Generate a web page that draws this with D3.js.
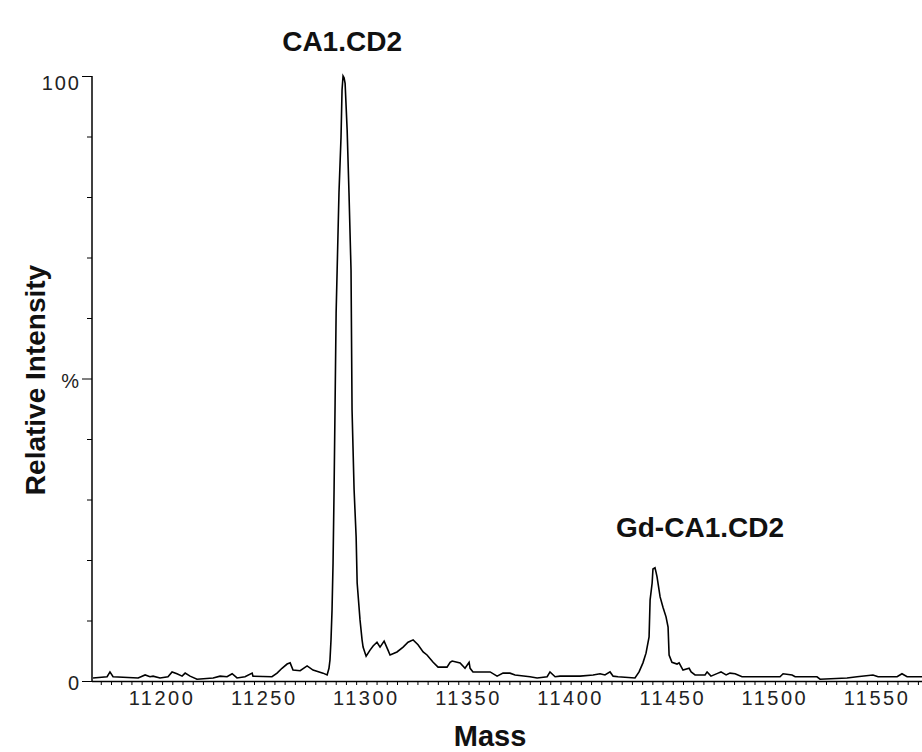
<!DOCTYPE html>
<html>
<head>
<meta charset="utf-8">
<script src="https://cdn.jsdelivr.net/npm/d3@7"></script>
<style>
  html, body { margin: 0; padding: 0; background: #fff; }
  svg { display: block; }
</style>
</head>
<body>
<div id="chart"></div>
<script>
// ─── Data (mass, % relative intensity) ───
const massValues = [
  11166.2, 11173.1, 11174.5, 11176.0, 11188.3, 11191.7, 11194.1, 11195.6, 11199.0, 11202.9,
  11204.9, 11207.3, 11209.8, 11211.3, 11213.7, 11217.1, 11225.0, 11228.4, 11231.8, 11234.3,
  11236.7, 11240.6, 11244.1, 11244.5, 11253.8, 11256.3, 11258.7, 11261.2, 11262.7, 11264.1,
  11267.6, 11271.0, 11273.9, 11278.8, 11280.8, 11281.7, 11282.2, 11282.7, 11283.2, 11283.7,
  11284.2, 11284.7, 11285.2, 11285.7, 11286.6, 11287.6, 11288.1, 11288.6, 11289.1, 11289.6,
  11290.6, 11291.5, 11292.5, 11293.0, 11294.0, 11295.0, 11295.5, 11296.9, 11297.9, 11298.4,
  11299.4, 11299.9, 11301.8, 11303.3, 11305.2, 11306.7, 11308.7, 11310.6, 11311.6, 11315.0,
  11318.0, 11320.4, 11322.9, 11325.3, 11327.8, 11329.7, 11332.7, 11335.1, 11339.5, 11341.0,
  11342.0, 11345.9, 11348.3, 11350.3, 11350.8, 11352.2, 11360.6, 11364.0, 11366.9, 11370.3,
  11372.8, 11380.1, 11383.6, 11388.5, 11389.9, 11392.4, 11394.8, 11404.6, 11411.0, 11414.4,
  11416.8, 11419.3, 11420.8, 11423.2, 11431.5, 11433.5, 11435.4, 11436.9, 11438.4, 11438.9,
  11439.9, 11440.3, 11441.3, 11441.8, 11442.3, 11443.8, 11445.2, 11446.7, 11447.7, 11448.2,
  11449.6, 11452.1, 11453.1, 11455.0, 11458.0, 11459.0, 11460.9, 11465.8, 11466.8, 11468.7,
  11472.2, 11473.6, 11476.1, 11478.0, 11480.5, 11483.9, 11486.4, 11502.5, 11504.0, 11508.4,
  11509.9, 11520.6, 11522.1, 11535.3, 11540.2, 11548.0, 11550.5, 11559.8, 11562.2, 11564.7,
  11572.0
];
const intensityValues = [
  0.5, 0.7, 1.5, 0.7, 0.5, 1.0, 0.7, 0.8, 0.5, 0.7,
  1.5, 1.2, 0.8, 1.3, 0.8, 0.3, 0.5, 0.8, 0.7, 1.2,
  0.5, 0.7, 1.3, 0.8, 0.7, 1.3, 2.1, 2.8, 3.0, 1.8,
  1.7, 2.5, 1.8, 1.3, 1.0, 2.1, 3.5, 6.8, 11.7, 19.5,
  31.6, 46.0, 60.8, 67.9, 80.7, 89.9, 97.7, 100, 99.7, 98.8,
  91.1, 80.7, 67.9, 44.8, 31.6, 23.8, 16.2, 10.1, 6.8, 5.6,
  4.6, 4.1, 5.1, 5.8, 6.4, 5.6, 6.6, 5.1, 4.3, 4.8,
  5.6, 6.4, 6.8, 6.0, 4.8, 4.3, 3.1, 2.3, 2.3, 3.1,
  3.3, 3.0, 2.1, 3.1, 2.1, 1.5, 1.5, 0.8, 1.3, 1.3,
  1.0, 0.7, 0.5, 0.7, 1.5, 0.7, 0.8, 0.8, 1.0, 1.2,
  1.0, 1.5, 0.8, 0.7, 0.5, 1.5, 3.0, 4.6, 7.3, 13.4,
  16.2, 18.5, 18.7, 18.0, 17.2, 13.9, 12.2, 10.6, 8.9, 4.3,
  3.1, 2.8, 3.0, 1.8, 2.1, 1.5, 1.0, 1.0, 1.5, 0.8,
  1.3, 1.5, 1.0, 1.3, 1.2, 0.7, 0.7, 0.7, 1.2, 1.0,
  0.7, 0.7, 0.3, 0.5, 0.7, 1.0, 0.7, 0.7, 1.2, 0.7,
  0.7
];

const xTickValues = [11200, 11250, 11300, 11350, 11400, 11450, 11500, 11550];
const yLabelValues = [0, 50, 100];
const yLabelTexts = ["0", "%", "100"];
const peakLabels = ["CA1.CD2", "Gd-CA1.CD2"];
const peakMasses = [11288.6, 11441.3];

// ─── Layout ───
const W = 922, H = 752;
const plot = { left: 92, right: 922, top: 76, bottom: 681 };

const svg = d3.select("#chart").append("svg")
  .attr("width", W)
  .attr("height", H)
  .attr("viewBox", `0 0 ${W} ${H}`);

const x = d3.scaleLinear().domain([11165.7, 11572]).range([plot.left, plot.right]);
const y = d3.scaleLinear().domain([0, 100]).range([plot.bottom, plot.top]);

const font = "'Liberation Sans', Arial, sans-serif";

// ── X axis: minor ticks every 5 mass units, labels every 50 ──
const minorX = d3.range(11170, 11572, 5);
const gX = svg.append("g").attr("transform", `translate(0,${plot.bottom})`);
gX.call(d3.axisBottom(x).tickValues(minorX).tickSize(4).tickFormat(""))
  .call((g) => g.select(".domain").attr("d", `M${plot.left},0.5H${plot.right}`));
gX.selectAll("line").attr("stroke", "#000");
gX.select(".domain").attr("stroke", "#000").attr("stroke-width", 1.5);

svg.append("g")
  .selectAll("text")
  .data(xTickValues)
  .join("text")
  .attr("x", (d) => x(d))
  .attr("y", plot.bottom + 24)
  .attr("text-anchor", "middle")
  .style("font-family", font)
  .style("font-size", "20px")
  .style("letter-spacing", "2.5px")
  .style("fill", "#222")
  .text((d) => d);

// ── Y axis: minor ticks every 10 %, major at 0 / 50 / 100 ──
const gY = svg.append("g");
gY.append("line")
  .attr("x1", plot.left).attr("x2", plot.left)
  .attr("y1", y(100)).attr("y2", y(0))
  .attr("stroke", "#000").attr("stroke-width", 1.5);

gY.selectAll("line.tick")
  .data(d3.range(0, 101, 10))
  .join("line")
  .attr("class", "tick")
  .attr("x1", (d) => (d % 50 === 0 ? plot.left - 10 : plot.left - 5))
  .attr("x2", plot.left)
  .attr("y1", (d) => y(d) + 0.5)
  .attr("y2", (d) => y(d) + 0.5)
  .attr("stroke", "#000");

gY.selectAll("text")
  .data(yLabelValues)
  .join("text")
  .attr("x", plot.left - 11)
  .attr("y", (d, i) => y(d) + (i === 2 ? 7 : 2))
  .attr("dy", "0.35em")
  .attr("text-anchor", "end")
  .style("font-family", font)
  .style("font-size", "20px")
  .style("letter-spacing", "2px")
  .style("fill", "#222")
  .text((d, i) => yLabelTexts[i]);

// ── Spectrum trace ──
const series = massValues.map((m, i) => ({ m, v: intensityValues[i] }));
svg.append("path")
  .datum(series)
  .attr("fill", "none")
  .attr("stroke", "#000")
  .attr("stroke-width", 1.6)
  .attr("stroke-linejoin", "miter")
  .attr("d", d3.line().x((d) => x(d.m)).y((d) => y(d.v)));

// ── Peak annotations ──
const labelOffsets = [{ dx: -1, y: 51 }, { dx: 45, y: 537 }];
svg.append("g")
  .selectAll("text")
  .data(peakLabels)
  .join("text")
  .attr("x", (d, i) => x(peakMasses[i]) + labelOffsets[i].dx)
  .attr("y", (d, i) => labelOffsets[i].y)
  .attr("text-anchor", "middle")
  .style("font-family", font)
  .style("font-weight", "bold")
  .style("font-size", "28px")
  .style("fill", "#111")
  .text((d) => d);

// ── Axis titles ──
svg.append("text")
  .attr("x", 490)
  .attr("y", 746)
  .attr("text-anchor", "middle")
  .style("font-family", font)
  .style("font-weight", "bold")
  .style("font-size", "29px")
  .style("fill", "#111")
  .text("Mass");

svg.append("text")
  .attr("transform", "translate(45,380) rotate(-90)")
  .attr("text-anchor", "middle")
  .style("font-family", font)
  .style("font-weight", "bold")
  .style("font-size", "28px")
  .style("fill", "#111")
  .text("Relative Intensity");
</script>
</body>
</html>
